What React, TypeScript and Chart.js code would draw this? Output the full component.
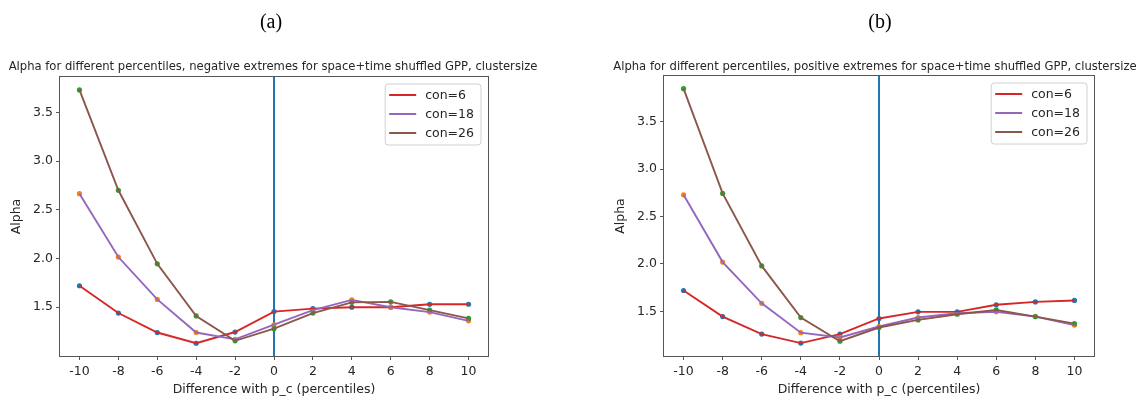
import React, { useEffect, useRef } from "react";
import { Chart, registerables } from "chart.js";

Chart.register(...registerables);

// ---------- data ----------
const xValues = [-10, -8, -6, -4, -2, 0, 2, 4, 6, 8, 10];
const xTicks = [-10, -8, -6, -4, -2, 0, 2, 4, 6, 8, 10];
const yTicks = [1.5, 2.0, 2.5, 3.0, 3.5];
const seriesNames = ["con=6", "con=18", "con=26"];

// (a) negative extremes
const negCon6 = [1.72, 1.44, 1.24, 1.13, 1.245, 1.455, 1.485, 1.5, 1.5, 1.53, 1.53];
const negCon18 = [2.665, 2.015, 1.58, 1.24, 1.17, 1.32, 1.47, 1.575, 1.5, 1.45, 1.36];
const negCon26 = [3.73, 2.7, 1.945, 1.41, 1.155, 1.28, 1.44, 1.55, 1.555, 1.47, 1.385];

// (b) positive extremes
const posCon6 = [1.72, 1.445, 1.26, 1.165, 1.26, 1.425, 1.495, 1.495, 1.57, 1.6, 1.615];
const posCon18 = [2.73, 2.02, 1.585, 1.275, 1.225, 1.34, 1.435, 1.48, 1.495, 1.445, 1.355];
const posCon26 = [3.85, 2.745, 1.98, 1.435, 1.185, 1.33, 1.41, 1.47, 1.515, 1.445, 1.37];

const referenceX = 0;

const titleA =
  "Alpha for different percentiles, negative extremes for space+time shuffled GPP, clustersize";
const titleB =
  "Alpha for different percentiles, positive extremes for space+time shuffled GPP, clustersize";
const xLabel = "Difference with p_c (percentiles)";
const yLabel = "Alpha";

// ---------- styles ----------
const lineColors = ["#d62728", "#9467bd", "#8c564b"];
const markerColors = ["#1f77b4", "#ff7f0e", "#2ca02c"];
const FONT = "'DejaVu Sans', sans-serif";
const TEXT = "#262626";
const SPINE = "#555555";

const decorPlugin = {
  id: "decor",
  beforeDatasetsDraw(chart: any, _args: any, opts: any) {
    const { ctx, chartArea: a, scales } = chart;
    const px = scales.x.getPixelForValue(opts.vlineX);
    ctx.save();
    ctx.strokeStyle = "#1f77b4";
    ctx.lineWidth = 2;
    ctx.beginPath();
    ctx.moveTo(px, a.top);
    ctx.lineTo(px, a.bottom);
    ctx.stroke();
    ctx.restore();
  },
  afterDatasetsDraw(chart: any, _args: any, opts: any) {
    const { ctx, chartArea: a } = chart;
    ctx.save();
    // frame
    ctx.strokeStyle = SPINE;
    ctx.lineWidth = 1;
    ctx.strokeRect(a.left - 0.5, a.top - 0.5, a.right - a.left + 1, a.bottom - a.top + 1);
    // legend
    const names: string[] = opts.names;
    const colors: string[] = opts.colors;
    ctx.font = `12.5px ${FONT}`;
    const maxW = Math.max(...names.map((n) => ctx.measureText(n).width));
    const w = 40 + maxW + 7;
    const h = 61;
    const bx = a.right - 7 - w;
    const by = a.top + 7;
    ctx.beginPath();
    const r = 3;
    ctx.moveTo(bx + r, by);
    ctx.lineTo(bx + w - r, by);
    ctx.arcTo(bx + w, by, bx + w, by + r, r);
    ctx.lineTo(bx + w, by + h - r);
    ctx.arcTo(bx + w, by + h, bx + w - r, by + h, r);
    ctx.lineTo(bx + r, by + h);
    ctx.arcTo(bx, by + h, bx, by + h - r, r);
    ctx.lineTo(bx, by + r);
    ctx.arcTo(bx, by, bx + r, by, r);
    ctx.closePath();
    ctx.fillStyle = "rgba(255,255,255,0.8)";
    ctx.fill();
    ctx.strokeStyle = "#d0d0d0";
    ctx.lineWidth = 1;
    ctx.stroke();
    names.forEach((n, i) => {
      const yy = by + 11 + i * 19;
      ctx.strokeStyle = colors[i];
      ctx.lineWidth = 2;
      ctx.beginPath();
      ctx.moveTo(bx + 4, yy);
      ctx.lineTo(bx + 31, yy);
      ctx.stroke();
      ctx.fillStyle = TEXT;
      ctx.textBaseline = "middle";
      ctx.textAlign = "left";
      ctx.fillText(n, bx + 40, yy + 0.5);
    });
    ctx.restore();
  },
};

type PanelProps = {
  left: number;
  width: number;
  padLeft: number;
  padRight: number;
  padTop: number;
  series: number[][];
  yMin: number;
  yMax: number;
};

function ChartPanel({ left, width, padLeft, padRight, padTop, series, yMin, yMax }: PanelProps) {
  const ref = useRef<HTMLCanvasElement>(null);
  useEffect(() => {
    if (!ref.current) return;
    const datasets: any[] = [];
    series.forEach((vals, i) => {
      datasets.push({
        label: seriesNames[i],
        data: xValues.map((x, j) => ({ x, y: vals[j] })),
        borderColor: lineColors[i],
        backgroundColor: lineColors[i],
        borderWidth: 1.9,
        pointRadius: 0,
        fill: false,
        tension: 0,
        order: 3 - i,
      });
    });
    series.forEach((vals, i) => {
      datasets.push({
        label: seriesNames[i] + " points",
        data: xValues.map((x, j) => ({ x, y: vals[j] })),
        showLine: false,
        pointRadius: 2.6,
        pointBackgroundColor: markerColors[i],
        pointBorderWidth: 0,
        order: 6 - i,
      });
    });
    const tickFont = { family: FONT, size: 12.5, lineHeight: 1.2 };
    const chart = new Chart(ref.current, {
      type: "line",
      data: { datasets },
      plugins: [decorPlugin as any],
      options: {
        animation: false,
        responsive: false,
        devicePixelRatio: 1,
        layout: { padding: { left: padLeft, right: padRight, top: padTop, bottom: 0 } },
        plugins: {
          legend: { display: false },
          tooltip: { enabled: false },
          decor: { vlineX: referenceX, names: seriesNames, colors: lineColors },
        } as any,
        scales: {
          x: {
            type: "linear",
            min: -11,
            max: 11,
            afterBuildTicks: (s: any) => {
              s.ticks = xTicks.map((v) => ({ value: v }));
            },
            afterFit: (s: any) => {
              s.height = 49;
            },
            ticks: {
              font: tickFont,
              color: TEXT,
              padding: 4,
              maxRotation: 0,
              autoSkip: false,
              callback: (v: any) => String(v),
            },
            grid: { drawOnChartArea: false, drawTicks: true, tickLength: 4, tickColor: SPINE },
            border: { display: false },
            title: {
              display: true,
              text: xLabel,
              font: tickFont,
              color: TEXT,
              padding: { top: 0, bottom: 7.5 },
            },
          },
          y: {
            type: "linear",
            min: yMin,
            max: yMax,
            afterBuildTicks: (s: any) => {
              s.ticks = yTicks.map((v) => ({ value: v }));
            },
            afterFit: (s: any) => {
              s.width = 60;
            },
            ticks: {
              font: tickFont,
              color: TEXT,
              padding: 3,
              autoSkip: false,
              callback: (v: any) => Number(v).toFixed(1),
            },
            grid: { drawOnChartArea: false, drawTicks: true, tickLength: 4, tickColor: SPINE },
            border: { display: false },
            title: {
              display: true,
              text: yLabel,
              font: tickFont,
              color: TEXT,
              padding: { top: 9.5, bottom: 0 },
            },
          },
        },
      } as any,
    });
    return () => chart.destroy();
  }, []);
  return (
    <canvas
      ref={ref}
      width={width}
      height={405}
      style={{ position: "absolute", left, top: 0, width, height: 405 }}
    />
  );
}

const centered = (x: number, y: number): React.CSSProperties => ({
  position: "absolute",
  left: x,
  top: y,
  transform: "translate(-50%, -50%)",
  whiteSpace: "nowrap",
  lineHeight: 1,
});

export default function App() {
  return (
    <div
      style={{
        position: "fixed",
        left: 0,
        top: 0,
        width: 1147,
        height: 405,
        background: "#fff",
        overflow: "hidden",
      }}
    >
      <ChartPanel
        left={0}
        width={573}
        padLeft={0}
        padRight={85}
        padTop={77}
        series={[negCon6, negCon18, negCon26]}
        yMin={0.999}
        yMax={3.863}
      />
      <ChartPanel
        left={573}
        width={574}
        padLeft={31}
        padRight={53}
        padTop={76}
        series={[posCon6, posCon18, posCon26]}
        yMin={1.029}
        yMax={3.984}
      />
      <div style={{ ...centered(271, 21), fontFamily: "'Liberation Serif', 'Times New Roman', serif", fontSize: 20, color: "#000" }}>
        (a)
      </div>
      <div style={{ ...centered(880, 21), fontFamily: "'Liberation Serif', 'Times New Roman', serif", fontSize: 20, color: "#000" }}>
        (b)
      </div>
      <div style={{ ...centered(273, 66.5), fontFamily: FONT, fontSize: 11.6, color: TEXT }}>{titleA}</div>
      <div style={{ ...centered(875, 66.5), fontFamily: FONT, fontSize: 11.6, color: TEXT }}>{titleB}</div>
    </div>
  );
}
